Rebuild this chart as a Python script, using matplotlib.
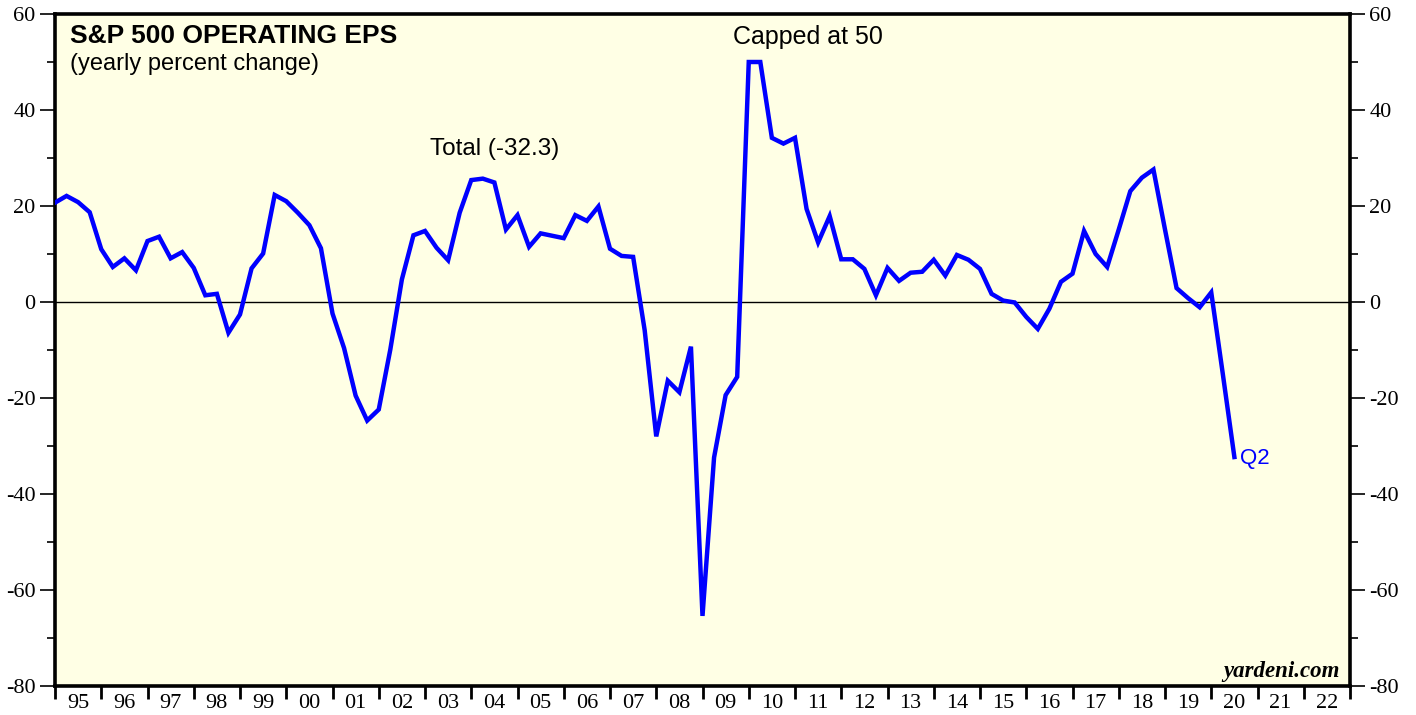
import matplotlib
matplotlib.use("Agg")
import matplotlib.pyplot as plt
from matplotlib.ticker import FixedLocator, MultipleLocator, NullFormatter
import pandas as pd

# quarterly yearly percent change in S&P 500 operating EPS, 1994Q4 .. 2020Q2
first_quarter = "1994Q4"
eps_growth = [
    20.7, 22.1, 20.8, 18.7,
    11.0, 7.3, 9.1, 6.6,
    12.7, 13.6, 9.1, 10.4,
    7.1, 1.4, 1.7, -6.4,
    -2.6, 7.0, 10.1, 22.3,
    21.0, 18.6, 16.0, 11.2,
    -2.4, -9.6, -19.5, -24.7,
    -22.4, -9.9, 4.7, 13.9,
    14.8, 11.3, 8.7, 18.6,
    25.4, 25.7, 24.9, 15.1,
    18.1, 11.5, 14.3, 13.8,
    13.3, 18.1, 16.9, 19.9,
    11.1, 9.6, 9.4, -5.9,
    -28.0, -16.4, -18.8, -9.3,
    -65.4, -32.4, -19.4, -15.6,
    50.0, 50.0, 34.2, 33.0,
    34.2, 19.4, 12.4, 17.9,
    8.9, 8.9, 6.9, 1.4,
    7.1, 4.4, 6.1, 6.3,
    8.8, 5.5, 9.8, 8.8,
    6.9, 1.7, 0.3, -0.1,
    -3.1, -5.6, -1.4, 4.2,
    5.9, 14.8, 10.0, 7.3,
    15.1, 23.1, 25.9, 27.6,
    15.1, 2.9, 0.8, -1.1,
    2.0, -15.0, -32.3,
]
year_labels = ["95", "96", "97", "98", "99", "00", "01", "02", "03", "04",
               "05", "06", "07", "08", "09", "10", "11", "12", "13", "14",
               "15", "16", "17", "18", "19", "20", "21", "22"]
first_year = 1995
last_q = "Q2"
total_label = "Total (-32.3)"

quarters = pd.period_range(first_quarter, periods=len(eps_growth), freq="Q")
xs = [q.year + q.quarter / 4 for q in quarters]

plt.rcParams["axes.unicode_minus"] = False
serif = ["Liberation Serif", "DejaVu Serif"]
sans = ["Liberation Sans", "DejaVu Sans"]

fig = plt.figure(figsize=(14.16, 7.15), dpi=100)
ax = fig.add_axes([55 / 1416, 29 / 715, 1295 / 1416, 672 / 715])
ax.set_facecolor("#FFFFE5")

ax.axhline(0, color="black", linewidth=1.0, zorder=1)
ax.plot(xs, eps_growth, color="#0000FF", linewidth=3.2, solid_joinstyle="miter", zorder=3)

ax.set_xlim(first_year, first_year + len(year_labels))
ax.set_ylim(-80, 60)

# y axis on both sides
ax.yaxis.set_major_locator(MultipleLocator(20))
ax.yaxis.set_minor_locator(MultipleLocator(10))
ax.tick_params(axis="y", which="both", direction="out", left=True, right=True,
               labelleft=True, labelright=True, width=1.2, pad=3, labelsize=16)
ax.tick_params(axis="y", which="major", length=11)
ax.tick_params(axis="y", which="minor", length=5.5)
for lbl in ax.get_yticklabels():
    lbl.set_family(serif)

# x axis: ticks at year boundaries, labels at mid-year
years = list(range(first_year, first_year + len(year_labels) + 1))
ax.xaxis.set_major_locator(FixedLocator(years))
ax.xaxis.set_major_formatter(NullFormatter())
ax.xaxis.set_minor_locator(FixedLocator([y + 0.5 for y in years[:-1]]))
ax.set_xticklabels(year_labels, minor=True, family=serif, fontsize=16)
ax.tick_params(axis="x", which="major", direction="out", length=9, width=2)
ax.tick_params(axis="x", which="minor", length=0, pad=6)

for side in ["left", "bottom", "top", "right"]:
    ax.spines[side].set_linewidth(2.6)

ax.text(0.0116, 0.968, "S&P 500 OPERATING EPS", transform=ax.transAxes,
        family=sans, fontsize=19, fontweight="bold", va="center", ha="left")
ax.text(0.0116, 0.926, "(yearly percent change)", transform=ax.transAxes,
        family=sans, fontsize=17, va="center", ha="left")
ax.text(2003.11, 31.8, total_label, family=sans, fontsize=17.5, va="center", ha="left")
ax.text(2009.66, 55.2, "Capped at 50", family=sans, fontsize=18, va="center", ha="left")
ax.text(xs[-1] + 0.13, eps_growth[-1] - 0.3, last_q, family=sans, fontsize=16,
        color="#0000FF", va="center", ha="left")
ax.text(0.992, 0.021, "yardeni.com", transform=ax.transAxes, family=serif,
        fontsize=16.5, fontweight="bold", style="italic", va="center", ha="right")

fig.savefig("out.png", dpi=100)
plt.close(fig)
